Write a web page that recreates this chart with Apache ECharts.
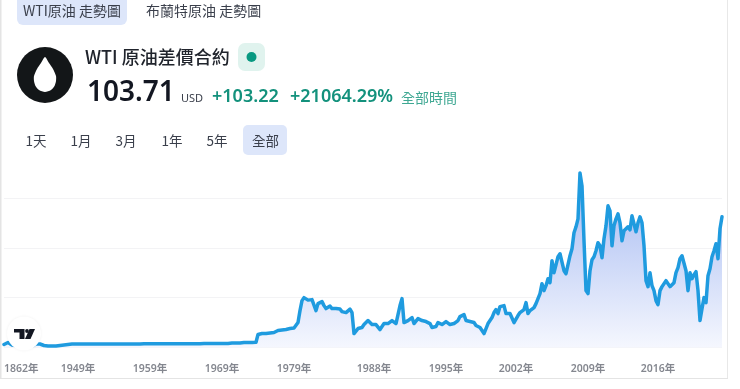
<!DOCTYPE html>
<html>
<head>
<meta charset="utf-8">
<style>html,body{margin:0;padding:0;background:#fff}#c{width:740px;height:389px}</style>
<script src="https://cdn.jsdelivr.net/npm/echarts@6/dist/echarts.min.js"></script>
</head>
<body>
<div id="c"></div>
<script>
// Values (the reference has no price scale, so they are on a relative scale)
const earlyPrices = [2.4,3.2,4,2.4,2,1.6,1.6,1.2,1.2,1.2,1.2,1.2,1.2,1.2,1.2,1.6,2.8,4,2.8,2,1.6,1.2,1.2,0.8,1.2,1.2,1.2,1.2,1.6,1.6,2,2.4,2.4,2.8];
const flatPrices = [
2.8,2.8,2.8,2.8,2.8,2.8,2.8,2.8,2.8,2.8,2.8,2.8,2.8,2.8,2.8,2.8,2.8,2.8,2.8,2.8,2.8,2.8,2.8,2.8,2.8,2.8,2.8,2.8,2.8,2.8,2.8,2.8,2.8,2.8,2.8,
3,3,3,3,3,3,3,3,3,3,3,3,3,3,3,3,3,3,3,3,3,3,3,3,3,3,3,3,3,3,
3.2,3.2,3.2,3.2,3.2,3.2,3.2,3.2,3.2,3.2,3.2,3.2,3.2,3.2,3.2,
3.6,3.6,3.6,3.6,3.6,3.6,4,4,4,4,4,4,4.2];
const seventiesEighties = [10.4,10.4,11.2,11.2,11.2,11.6,11.6,12,12,12.8,13.6,13.6,14,14,14.4,15.2,15.2,15.6,15.6,16,20,29.6,37.6,40,39.6,38,38.8,38.4,36.8,29.6,35.2,36.4,36.8,33.6,31.2,32.8,33.2,31.2,32,31.2,30.4,30.8,28.8,28.8,28,29.2,30.8,28,11.2,12.8,15.2,13.6,16,18.4,19.6,21.6,20,18.4,17.6,18.4,16.8,14.4,15.2,19.2,20,19.2,20,21.6,23.2,19.2,17.6,33.6,39.2,20,20.8,21.6,23.2,24,19.2,20.8,23.2,22.4,21.6,21.6,20.8,20,19.2,16,14.4,16.8,20,18.4,18.4,19.2,20.8,19.2,18.4,18.4,19.2,20.8,21.6,24.8,25.6,26.4,21.6,20.8,20.8,21.6,20,17.6,16.8,16,15.2,11.2];
const modernPrices = [15.2,19.2,21.6,24,28,30.4,27.2,32.8,34,33.6,27.2,28,27.2,26.4,20,19.6,25.6,28,28.8,30.4,36,27.2,29.6,30.4,32,35.2,39.2,43.2,51.2,45.6,49.6,55.2,52,69.6,60,60,72.8,75.2,75.2,61.6,59.2,60,73.6,79.2,92,96.8,103.2,140,129.6,85.6,45.6,43.2,61.6,70.4,72.8,77.6,84,81.6,72,87.2,97.6,113.6,109.6,81.6,97.6,103.2,107.2,100,85.6,93.6,95.2,96.8,94.4,105.6,107.2,92.8,100,104.8,100,81.6,53.6,48.8,60,49.6,45.6,37.6,34.4,45.6,48.8,50.4,53.6,52,48.8,47.2,52,60,64,71.2,73.6,73.6,61.6,45.6,60,55.2,58.4,60.8,45.6,21.6,31.2,40,36,57.6,63.2,72.8,77.6,83.2,71.2,95.2,104.8];
const prices = earlyPrices.concat(flatPrices, seventiesEighties, modernPrices);

const tickLabels = ['1862年','1949年','1959年','1969年','1979年','1988年','1995年','2002年','2009年','2016年'];
const tickPoints = [0,37,73,109,145,185,221,256,292,327];
const categories = prices.map(function (_, i) {
  const k = tickPoints.indexOf(i);
  return k >= 0 ? tickLabels[k] : '';
});

const rangeButtons = ['1天','1月','3月','1年','5年','全部'];
const tabs = ['WTI原油 走勢圖','布蘭特原油 走勢圖'];
const symbolTitle = 'WTI 原油差價合約';
const lastPrice = '103.71';
const currency = 'USD';
const change = '+103.22';
const changePct = '+21064.29%';
const changeRange = '全部時間';

const FONT = '"Noto Sans","Noto Sans CJK TC",sans-serif';
const CJK = '"Noto Sans CJK TC","Noto Sans",sans-serif';
function txt(x, y, text, size, color, weight, align, fam) {
  return {type:'text', z:20, style:{x:x, y:y, text:text, fontSize:size, fill:color, fontWeight:weight||400,
    fontFamily:fam||CJK, align:align||'left', verticalAlign:'middle'}};
}
const btnX = [36,81,126,172,217,265.5];

const chart = echarts.init(document.getElementById('c'), null, {renderer:'canvas'});
chart.setOption({
  animation:false,
  backgroundColor:'#fff',
  grid:{left:4, right:18, top:148, height:199.5},
  xAxis:{type:'category', data:categories, boundaryGap:false,
    axisLine:{show:false}, axisTick:{show:false}, splitLine:{show:false},
    axisLabel:{interval:0, hideOverlap:false, margin:16, alignMinLabel:'left',
      color:'#84878f', fontSize:10.5, fontFamily:FONT, fontWeight:600}},
  yAxis:{type:'value', min:0, max:160, interval:40, axisLine:{show:false}, axisTick:{show:false},
    axisLabel:{show:false}, splitLine:{show:true, showMaxLine:false, lineStyle:{color:'#f3f3f5', width:1}}},
  series:[{type:'line', data:prices, showSymbol:false, symbol:'none', smooth:false, z:5,
    lineStyle:{color:'#1f9bdf', width:3.5, join:'round', cap:'round'},
    areaStyle:{opacity:1, color:{type:'linear', x:0, y:0, x2:0, y2:1,
      colorStops:[{offset:0, color:'#a3b8f1'},{offset:1, color:'#f5f7fe'}]}}}],
  graphic:[
    // frame
    {type:'rect', z:1, shape:{x:0,y:0,width:1.5,height:379}, style:{fill:'#e4e4e4'}},
    {type:'rect', z:1, shape:{x:727,y:0,width:1,height:379}, style:{fill:'#e8e8e8'}},
    {type:'rect', z:1, shape:{x:0,y:378,width:728,height:1}, style:{fill:'#e4e4e4'}},
    // tabs
    {type:'rect', z:10, shape:{x:17,y:-8,width:110,height:33,r:6}, style:{fill:'#dde6fa'}},
    txt(23,11,tabs[0],14,'#3a3f4b'),
    txt(146,11,tabs[1],14,'#3a3f4b'),
    // symbol badge
    {type:'circle', z:10, shape:{cx:45,cy:75,r:28}, style:{fill:'#131618'}},
    {type:'polygon', z:11, shape:{smooth:0.25, points:[[45,57],[49,63],[53,69],[56,76],[56,81],[54.5,86],[51,90],[45,92],[39,90],[35.5,86],[34,81],[34,76],[37,69],[41,63]]}, style:{fill:'#fff'}},
    txt(85,57,symbolTitle,18,'#20242c',500),
    {type:'rect', z:10, shape:{x:238,y:43,width:27,height:28,r:7}, style:{fill:'#e0f3ee'}},
    {type:'circle', z:11, shape:{cx:251.5,cy:57,r:5}, style:{fill:'#089981'}},
    // price row
    txt(87,93,lastPrice,28,'#131722',600,'left',FONT),
    txt(181,99,currency,11,'#3a3f4b',400,'left',FONT),
    txt(212,97,change,18,'#13917c',600,'left',FONT),
    txt(290,97,changePct,18,'#13917c',600,'left',FONT),
    txt(401,98,changeRange,14,'#3fa893'),
    // range buttons
    {type:'rect', z:10, shape:{x:243,y:125,width:44,height:30,r:5}, style:{fill:'#dde6fa'}}
  ].concat(rangeButtons.map(function (b, i) { return txt(btnX[i],141,b,13.5,'#3a3f4b',400,'center'); })).concat([
    // TradingView mark
    {type:'circle', z:30, shape:{cx:24,cy:333.5,r:17}, style:{fill:'#fff', shadowBlur:3, shadowColor:'rgba(0,0,0,0.06)'}},
    {type:'polygon', z:31, shape:{points:[[14,329],[24.5,329],[24.5,339],[19.5,339],[19.5,332.5],[14,332.5]]}, style:{fill:'#131722'}},
    {type:'polygon', z:31, shape:{points:[[29.5,329],[35,329],[30.5,339],[25,339]]}, style:{fill:'#131722'}},
    {type:'circle', z:31, shape:{cx:27,cy:331,r:1.9}, style:{fill:'#131722'}}
  ])
});
</script>
</body>
</html>
